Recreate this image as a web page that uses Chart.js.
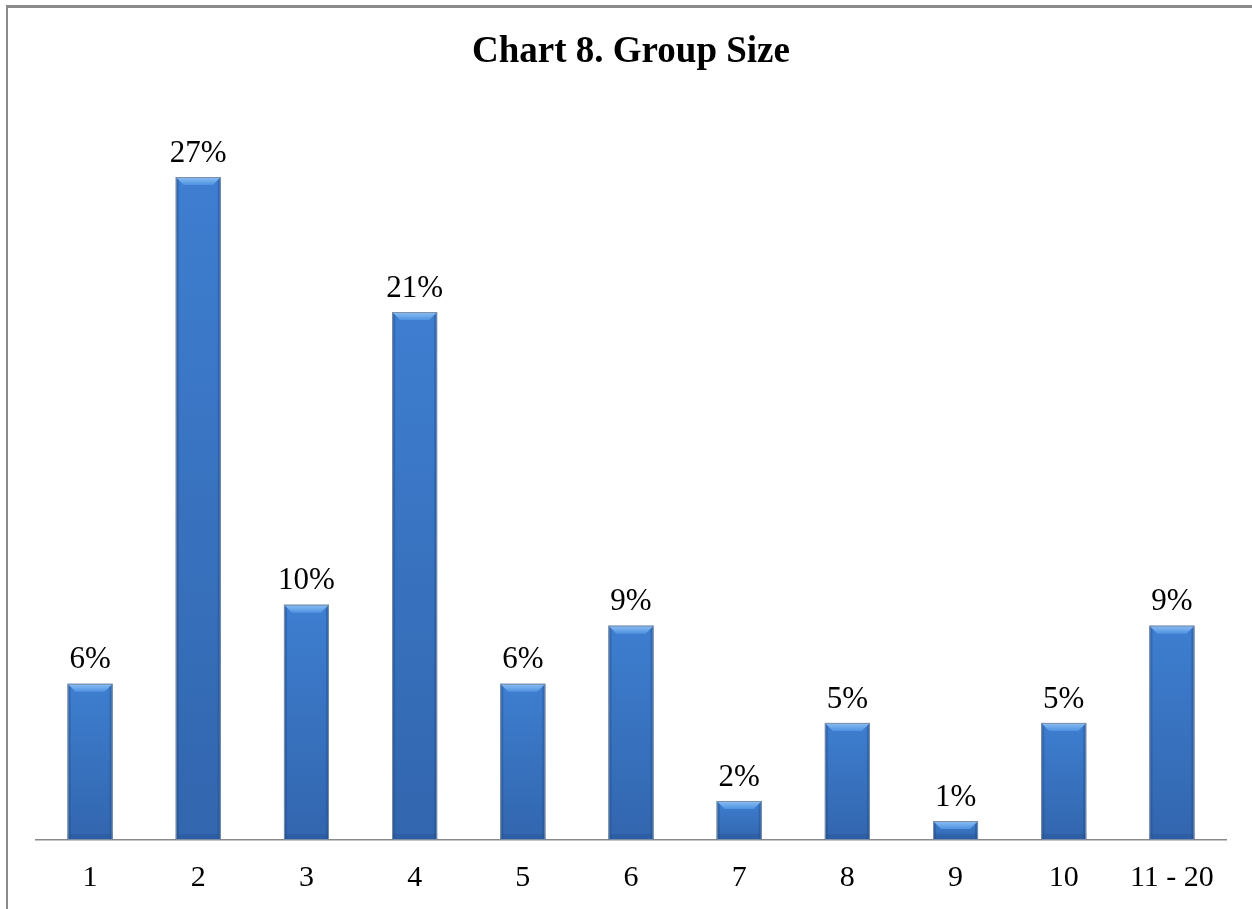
<!DOCTYPE html>
<html>
<head>
<meta charset="utf-8">
<script src="https://cdn.jsdelivr.net/npm/chart.js@4.4.1/dist/chart.umd.min.js"></script>
<style>
  html, body { margin: 0; padding: 0; background: #fff; }
  #wrap { position: relative; width: 1252px; height: 909px; }
  #frame { position: absolute; left: 6px; top: 5px; right: 0; bottom: 0;
           border-left: 2px solid #8a8a8a; border-top: 3px solid #8a8a8a; pointer-events: none; }
  canvas { position: absolute; left: 0; top: 0; }
</style>
</head>
<body>
<div id="wrap">
  <canvas id="chart" width="1252" height="909"></canvas>
  <div id="frame"></div>
</div>
<script>
// group sizes and share of groups (%)
const groupSizes = ['1', '2', '3', '4', '5', '6', '7', '8', '9', '10', '11 - 20'];
const shareValues = [6.36, 27.0, 9.58, 21.5, 6.36, 8.73, 1.59, 4.77, 0.77, 4.77, 8.73];
const shareLabels = ['6%', '27%', '10%', '21%', '6%', '9%', '2%', '5%', '1%', '5%', '9%'];

const FONT = "'Liberation Serif', 'Times New Roman', serif";

// bar fill: vertical gradient like the Excel bevel look
function barFill(ctx) {
  const y = ctx.chart.scales.y;
  if (!y || ctx.raw == null) return '#3b78c9';
  const top = y.getPixelForValue(ctx.raw);
  const base = y.getPixelForValue(0);
  if (!isFinite(top) || !isFinite(base) || top === base) return '#3b78c9';
  const g = ctx.chart.ctx.createLinearGradient(0, top, 0, base);
  g.addColorStop(0, '#3e7ed0');
  g.addColorStop(1, '#3266ae');
  return g;
}

// bevel overlay: light cap on top, darker side and bottom strips
const bevelPlugin = {
  id: 'bevel',
  afterDatasetsDraw(chart) {
    const c = chart.ctx;
    const meta = chart.getDatasetMeta(0);
    meta.data.forEach(bar => {
      const left = bar.x - bar.width / 2;
      const right = bar.x + bar.width / 2;
      const top = bar.y;
      const bottom = bar.base;
      const h = bottom - top;
      if (!isFinite(h) || h <= 0) return;
      const cap = Math.min(8, h / 2);
      c.save();
      // side strips
      c.fillStyle = 'rgba(30,70,130,0.35)';
      c.fillRect(left, top, 3, h);
      c.fillRect(right - 3, top, 3, h);
      // bottom strip
      const bot = Math.min(6, h / 3);
      c.fillStyle = 'rgba(30,70,130,0.25)';
      c.fillRect(left, bottom - bot, bar.width, bot);
      // top cap trapezoid
      const cg = c.createLinearGradient(0, top, 0, top + cap);
      cg.addColorStop(0, '#8cc0f5');
      cg.addColorStop(1, '#4f92e0');
      c.fillStyle = cg;
      c.beginPath();
      c.moveTo(left, top);
      c.lineTo(right, top);
      c.lineTo(right - cap, top + cap);
      c.lineTo(left + cap, top + cap);
      c.closePath();
      c.fill();
      // outline
      c.strokeStyle = '#7d8ea6';
      c.lineWidth = 1;
      c.strokeRect(left + 0.5, top + 0.5, bar.width - 1, h - 1);
      c.restore();
    });
  }
};

// value labels above bars
const valueLabelPlugin = {
  id: 'valueLabels',
  afterDatasetsDraw(chart) {
    const c = chart.ctx;
    const meta = chart.getDatasetMeta(0);
    c.save();
    c.font = '31px ' + FONT;
    c.fillStyle = '#000';
    c.textAlign = 'center';
    c.textBaseline = 'bottom';
    meta.data.forEach((bar, i) => {
      c.fillText(shareLabels[i], bar.x, bar.y - 8);
    });
    c.restore();
  }
};

new Chart(document.getElementById('chart'), {
  type: 'bar',
  data: {
    labels: groupSizes,
    datasets: [{
      data: shareValues,
      backgroundColor: barFill,
      borderWidth: 0,
      barPercentage: 0.416,
      categoryPercentage: 1.0
    }]
  },
  options: {
    responsive: false,
    animation: false,
    layout: { padding: { top: 10, left: 36, right: 26, bottom: 13 } },
    plugins: {
      legend: { display: false },
      tooltip: { enabled: false },
      title: {
        display: true,
        text: 'Chart 8. Group Size',
        color: '#000',
        font: { family: FONT, size: 37, weight: 'bold' },
        padding: { top: 20, bottom: 29 }
      }
    },
    scales: {
      x: {
        grid: { display: false, drawTicks: false },
        border: { display: true, color: '#8a8a8a', width: 1.5 },
        ticks: { color: '#000', font: { family: FONT, size: 30 }, padding: 20, maxRotation: 0, autoSkip: false },
        afterFit(scale) { scale.height = 56; }
      },
      y: {
        display: false,
        min: 0,
        max: 30
      }
    }
  },
  plugins: [bevelPlugin, valueLabelPlugin]
});
</script>
</body>
</html>
